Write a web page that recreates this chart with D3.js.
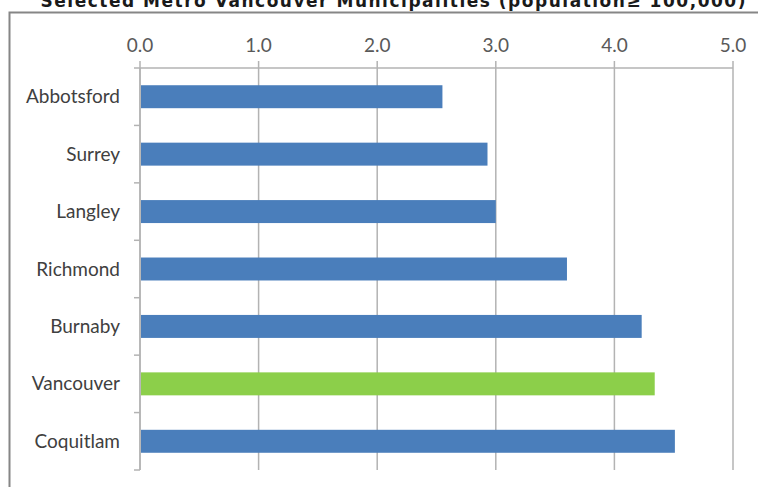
<!DOCTYPE html>
<html>
<head>
<meta charset="utf-8">
<script src="https://cdn.jsdelivr.net/npm/d3@7"></script>
<style>
  body { margin: 0; background: #fff; }
  svg { display: block; }
</style>
</head>
<body>
<div class="canvas"></div>
<script>
// data
const cities = ['Abbotsford', 'Surrey', 'Langley', 'Richmond', 'Burnaby', 'Vancouver', 'Coquitlam'];
const values = [2.55, 2.93, 3.0, 3.6, 4.23, 4.34, 4.51];
const highlight = ['Vancouver'];
const ticks = [0, 1, 2, 3, 4, 5];
const title = 'Selected Metro Vancouver Municipalities (population\u2265 100,000)';

const dims = {width: 758, height: 487};
const plot = {left: 140, right: 733, top: 68, bottom: 470};

const svg = d3.select('.canvas')
  .append('svg')
  .attr('width', dims.width)
  .attr('height', dims.height);

// chart frame
svg.append('rect')
  .attr('x', 9.5)
  .attr('y', 12.5)
  .attr('width', 800)
  .attr('height', 600)
  .attr('fill', '#fff')
  .attr('stroke', '#868686')
  .attr('stroke-width', 2);

// title (cut at the top in the original)
svg.append('text')
  .attr('x', 393)
  .attr('y', 7)
  .attr('text-anchor', 'middle')
  .attr('font-family', 'DejaVu Sans')
  .attr('font-weight', 'bold')
  .attr('font-size', 17)
  .attr('textLength', 705)
  .attr('fill', '#1a1a1a')
  .text(title);

const x = d3.scaleLinear()
  .domain([0, 5])
  .range([plot.left, plot.right]);

const y = d3.scaleBand()
  .domain(cities)
  .range([plot.top, plot.bottom])
  .paddingInner(0.6)
  .paddingOuter(0.3);

const yb = d3.scaleBand()
  .domain(cities)
  .range([plot.top, plot.bottom]);

// gridlines
svg.append('g')
  .selectAll('line')
  .data(ticks)
  .enter()
  .append('line')
  .attr('x1', d => x(d))
  .attr('x2', d => x(d))
  .attr('y1', plot.top - 7)
  .attr('y2', plot.bottom)
  .attr('stroke', '#b3b3b3')
  .attr('stroke-width', 1.5);

// top axis line
svg.append('line')
  .attr('x1', plot.left)
  .attr('x2', plot.right)
  .attr('y1', plot.top)
  .attr('y2', plot.top)
  .attr('stroke', '#b3b3b3')
  .attr('stroke-width', 1.5);

// tick labels
svg.append('g')
  .selectAll('text')
  .data(ticks)
  .enter()
  .append('text')
  .attr('x', d => x(d))
  .attr('y', 52)
  .attr('text-anchor', 'middle')
  .attr('font-family', 'Lato')
  .attr('font-size', 19)
  .attr('fill', '#595959')
  .text(d => d.toFixed(1));

// category axis with small ticks between bands
const yAxis = svg.append('g');
yAxis.append('line')
  .attr('x1', plot.left)
  .attr('x2', plot.left)
  .attr('y1', plot.top)
  .attr('y2', plot.bottom)
  .attr('stroke', '#b3b3b3')
  .attr('stroke-width', 1.5);

yAxis.selectAll('.ytick')
  .data(cities.concat(['end']))
  .enter()
  .append('line')
  .classed('ytick', true)
  .attr('x1', plot.left - 6)
  .attr('x2', plot.left)
  .attr('y1', (d, i) => plot.top + i * yb.step())
  .attr('y2', (d, i) => plot.top + i * yb.step())
  .attr('stroke', '#b3b3b3')
  .attr('stroke-width', 1.5);

yAxis.selectAll('.ylabel')
  .data(cities)
  .enter()
  .append('text')
  .classed('ylabel', true)
  .attr('x', 120)
  .attr('y', d => yb(d) + yb.bandwidth() / 2 + 6.5)
  .attr('text-anchor', 'end')
  .attr('font-family', 'Lato')
  .attr('font-size', 19)
  .attr('fill', '#404040')
  .text(d => d);

// bars
svg.append('g')
  .selectAll('rect')
  .data(cities)
  .enter()
  .append('rect')
  .attr('x', x(0) + 1)
  .attr('y', d => y(d))
  .attr('width', (d, i) => x(values[i]) - x(0) - 1)
  .attr('height', y.bandwidth())
  .attr('fill', d => highlight.includes(d) ? '#8ccf4a' : '#4a7ebb');
</script>
</body>
</html>
